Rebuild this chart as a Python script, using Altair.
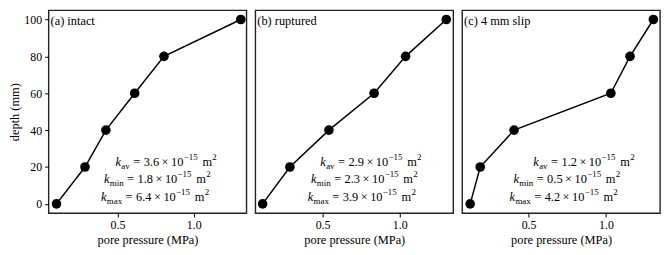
import altair as alt
import pandas as pd

# ---- data ----
depth = [0, 20, 40, 60, 80, 100]
p_intact = [0.100, 0.287, 0.424, 0.613, 0.805, 1.309]
p_ruptured = [0.111, 0.288, 0.541, 0.834, 1.038, 1.302]
p_slip = [0.122, 0.187, 0.406, 1.032, 1.156, 1.307]

panel_labels = ["(a) intact", "(b) ruptured", "(c) 4 mm slip"]
k_av = ["3.6", "2.9", "1.2"]
k_min = ["1.8", "2.3", "0.5"]
k_max = ["6.4", "3.9", "4.2"]
x_ticks = [0.5, 1.0]
y_ticks = [0, 20, 40, 60, 80, 100]

# ---- styling / layout ----
FONT = "'Liberation Serif', 'Times New Roman', 'DejaVu Serif', serif"
FS = 12.5     # main font size
SS = 9.0      # sub/superscript size
W, H = 200, 205
x_domains = [[0.048, 1.346], [0.064, 1.347], [0.07, 1.35]]
line_starts = [[67.7, 56.0, 53.0], [65.7, 56.3, 53.0], [72.0, 52.0, 48.0]]
baselines = [157.0, 174.5, 192.5]

# approximate Times-like advance widths (em) for laying out sub/superscripts
ADV = {c: 0.5 for c in "0123456789"}
ADV.update({".": 0.25, "=": 0.564, "×": 0.564, "−": 0.6,
            "m": 0.778, "a": 0.444, "v": 0.5, "i": 0.278, "n": 0.5,
            "x": 0.5, "k": 0.444})


def width(s, size):
    return sum(ADV.get(c, 0.5) for c in s) * size


def piece(txt, x, y, size, italic=False):
    return alt.Chart(pd.DataFrame({"t": [txt]})).mark_text(
        align="left", baseline="alphabetic", font=FONT, fontSize=size,
        fontStyle="italic" if italic else "normal", color="black"
    ).encode(text="t:N", x=alt.value(x), y=alt.value(y))


def k_line(sub, val, x0, yb):
    # (text, size, vertical shift, italic, gap before)
    parts = [("k", FS, 0, True, 0), (sub, SS, 3.5, False, 0.3),
             ("=", FS, 0, False, 3.5), (val, FS, 0, False, 3.5),
             ("×", FS, 0, False, 2.5), ("10", FS, 0, False, 2.5),
             ("−15", SS, -5.5, False, 0.3),
             ("m", FS, 0, False, 4.5), ("2", SS, -5.5, False, 0.3)]
    layers = []
    x = x0
    for txt, size, dy, it, gap in parts:
        x += gap
        layers.append(piece(txt, x, yb + dy, size, it))
        x += width(txt, size)
    return layers


def panel(i, pressures, show_y):
    df = pd.DataFrame({"pressure": pressures, "depth": depth})
    xenc = alt.X("pressure:Q",
                 scale=alt.Scale(domain=x_domains[i], nice=False, zero=False),
                 axis=alt.Axis(values=x_ticks, format=".1f",
                               title="pore pressure (MPa)"))
    if show_y:
        yaxis = alt.Axis(values=y_ticks, title="depth (mm)", tickSize=4,
                         labelPadding=3, titlePadding=2)
    else:
        yaxis = None
    yenc = alt.Y("depth:Q", scale=alt.Scale(domain=[-5, 105], nice=False,
                                           zero=False), axis=yaxis)
    base = alt.Chart(df).encode(x=xenc, y=yenc)
    line = base.mark_line(color="black", strokeWidth=1.5)
    pts = base.mark_point(filled=True, color="black", size=95, opacity=1)
    label = alt.Chart(pd.DataFrame({"t": [panel_labels[i]]})).mark_text(
        align="left", baseline="middle", font=FONT, fontSize=FS,
        color="black").encode(text="t:N", x=alt.value(2), y=alt.value(11))
    ann = []
    for j, (sub, vals) in enumerate([("av", k_av), ("min", k_min),
                                     ("max", k_max)]):
        ann += k_line(sub, vals[i], line_starts[i][j], baselines[j])
    return alt.layer(line, pts, label, *ann).properties(width=W, height=H)


chart = alt.hconcat(
    panel(0, p_intact, True),
    panel(1, p_ruptured, False),
    panel(2, p_slip, False),
    spacing=7,
).properties(
    padding={"left": 0, "top": 0, "right": 0, "bottom": 0}
).configure_view(
    stroke="#222222", strokeWidth=1.4
).configure_axis(
    labelFont=FONT, titleFont=FONT, labelFontSize=12, titleFontSize=12.5,
    titleFontWeight="normal", labelColor="black", titleColor="black",
    tickColor="black", domain=False, grid=False, tickSize=4,
    labelPadding=3, titlePadding=3
)

chart.save("out.html", embed_options={"renderer": "svg", "actions": False})
